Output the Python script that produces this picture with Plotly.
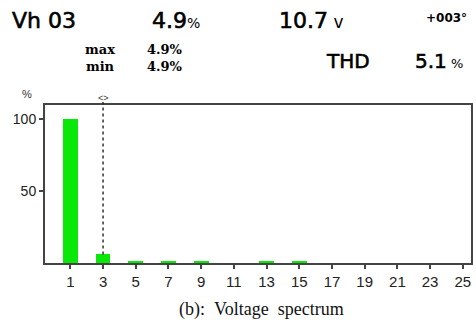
import plotly.graph_objects as go

# ---- data ----
harmonics = list(range(1, 26))
levels = [100, 0, 6, 0, 1.5, 0, 1.5, 0, 1.5, 0, 0, 0, 1.5, 0, 1.5, 0, 0, 0, 0, 0, 0, 0, 0, 0, 0]
odd_ticks = list(range(1, 26, 2))
y_ticks = [50, 100]
selected_harmonic = 3

W, H = 476, 329
L, R, T, B = 45, 3, 105, 66
PW, PH = W - L - R, H - T - B


def px(x):
    return (x - L) / PW


def py(y):
    return (H - B - y) / PH


fig = go.Figure()
fig.add_trace(go.Bar(
    x=harmonics, y=levels, width=0.9,
    marker=dict(color="#0ae80a", line=dict(width=0)),
))

sel_val = levels[harmonics.index(selected_harmonic)]
fig.add_shape(type="line", xref="x", yref="y", x0=selected_harmonic, x1=selected_harmonic,
              y0=sel_val, y1=110, line=dict(color="#333", width=1.5, dash="dot"))
fig.add_shape(type="line", xref="x", yref="paper", x0=selected_harmonic, x1=selected_harmonic,
              y0=1.0, y1=py(101), line=dict(color="#333", width=1.5, dash="dot"))

big = "DejaVu Sans"
ann = []


def text(x, y, s, size, family=big, color="#000", xanchor="left", yanchor="middle"):
    ann.append(dict(x=px(x), y=py(y), xref="paper", yref="paper", text=s, showarrow=False,
                    xanchor=xanchor, yanchor=yanchor, font=dict(family=family, size=size, color=color)))


text(10, 20, "Vh 03", 22)
text(150, 20, "4.9<span style='font-size:14px'>%</span>", 22)
text(278, 20, "10.7<span style='font-size:17px'> v</span>", 22)
text(426, 18, "<b>+003°</b>", 12)
text(83, 58, "<b>max<br>min</b>", 13, family="DejaVu Serif")
text(145, 58, "<b>4.9%<br>4.9%</b>", 13, family="DejaVu Serif")
text(325, 61, "THD", 20)
text(415, 61, "5.1<span style='font-size:13px'> %</span>", 20)
text(20, 94, "%", 11, family="Liberation Sans", color="#333")
ann.append(dict(x=selected_harmonic, y=py(98), xref="x", yref="paper", text="&lt;&gt;", showarrow=False,
                xanchor="center", yanchor="middle", font=dict(family="Liberation Sans", size=9, color="#333")))
text(263, 309, "(b):\u00a0\u00a0Voltage\u00a0\u00a0spectrum", 18, family="Liberation Serif",
     color="#111", xanchor="center")

fig.update_layout(
    width=W, height=H,
    margin=dict(l=L, r=R, t=T, b=B),
    paper_bgcolor="white", plot_bgcolor="white",
    showlegend=False,
    annotations=ann,
    bargap=0,
    xaxis=dict(range=[-0.55, 25.5], tickvals=odd_ticks, ticktext=[str(v) for v in odd_ticks],
               showgrid=False, zeroline=False, showline=True, linecolor="#444", linewidth=2, mirror=True,
               ticks="outside", ticklen=4, tickcolor="#444", tickwidth=1.5,
               tickfont=dict(family="Liberation Sans", size=15, color="#222")),
    yaxis=dict(range=[0, 110], tickvals=y_ticks, ticktext=[str(v) for v in y_ticks],
               showgrid=False, zeroline=False, showline=True, linecolor="#444", linewidth=2, mirror=True,
               ticks="outside", ticklen=4, tickcolor="#444", tickwidth=1.5,
               tickfont=dict(family="Liberation Sans", size=14, color="#222")),
)

post = (
    "document.body.style.margin='0';"
    "document.querySelectorAll('g.annotation text').forEach(function(t){"
    "var fs=parseFloat(t.style.fontSize);"
    "if(fs>=19 && t.style.fontFamily.indexOf('Serif')<0){t.style.stroke='#000';t.style.strokeWidth='0.6px';"
    "t.querySelectorAll('tspan').forEach(function(s){if(s.style.fontSize){s.style.stroke='none';}});}});"
)
fig.write_html("out.html", config={"displayModeBar": False}, post_script=post)
